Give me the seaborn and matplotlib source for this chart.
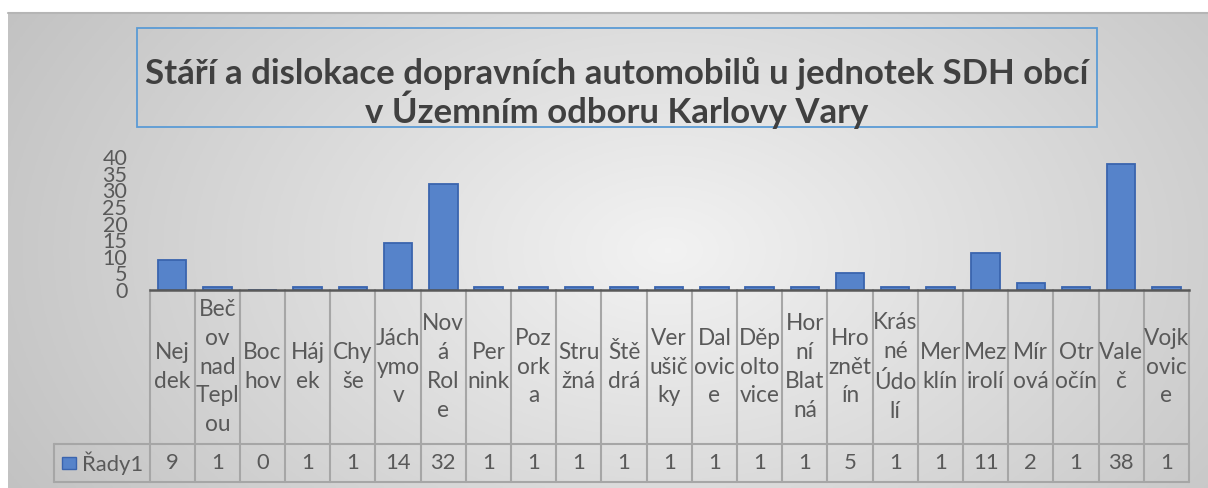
import numpy as np
import matplotlib
matplotlib.use("Agg")
import matplotlib.pyplot as plt
import matplotlib.transforms as mtransforms
from matplotlib.patches import Rectangle
import seaborn as sns

# ---- data ----
obce = ["Nejdek", "Bečov nad Teplou", "Bochov", "Hájek", "Chyše", "Jáchymov",
        "Nová Role", "Pernink", "Pozorka", "Stružná", "Štědrá", "Verušičky",
        "Dalovice", "Děpoltovice", "Horní Blatná", "Hroznětín", "Krásné Údolí",
        "Merklín", "Mezirolí", "Mírová", "Otročín", "Valeč", "Vojkovice"]
stitky = ["Nej\ndek", "Beč\nov\nnad\nTepl\nou", "Boc\nhov", "Háj\nek", "Chy\nše",
          "Jách\nymo\nv", "Nov\ná\nRol\ne", "Per\nnink", "Poz\nork\na", "Stru\nžná",
          "Ště\ndrá", "Ver\nušič\nky", "Dal\novic\ne", "Děp\nolto\nvice",
          "Hor\nní\nBlat\nná", "Hro\nznět\nín", "Krás\nné\nÚdo\nlí", "Mer\nklín",
          "Mez\nirolí", "Mír\nová", "Otr\nočín", "Vale\nč", "Vojk\novic\ne"]
pocty = [9, 1, 0, 1, 1, 14, 32, 1, 1, 1, 1, 1, 1, 1, 1, 5, 1, 1, 11, 2, 1, 38, 1]
rada = "Řady1"
y_ticks = [0, 5, 10, 15, 20, 25, 30, 35, 40]
titulek = "Stáří a dislokace dopravních automobilů u jednotek SDH obcí\nv Územním odboru Karlovy Vary"

W, H = 1208, 488
FONT = "Lato"
TXT = "#595959"
GRID = "#a6a6a6"
BAR = "#5683CA"
BAR_EDGE = "#3A64AE"

sns.set_theme(style="white")
plt.rcParams["font.family"] = [FONT, "DejaVu Sans"]

fig = plt.figure(figsize=(W / 100, H / 100), dpi=100)
fig.patch.set_facecolor("white")

# ---- background gradient (chart area) ----
bg = fig.add_axes([8 / W, 0, (W - 8) / W, (H - 13) / H])
nx, ny = 400, 160
X, Y = np.meshgrid(np.linspace(0, 1, nx), np.linspace(0, 1, ny))
d = np.sqrt(((X - 0.55) / 0.6) ** 2 + ((Y - 0.5) / 1.0) ** 2)
v = np.clip(0.95 - 0.18 * d, 0.76, 0.95)
img = np.dstack([v, v, v])
bg.imshow(img, extent=[0, 1, 0, 1], aspect="auto", origin="lower", zorder=0)
bg.plot([0, 1], [1, 1], color="#b5b5b5", lw=1.5, transform=bg.transAxes, clip_on=False)
bg.set_axis_off()

# ---- title box ----
fig.patches.append(Rectangle((137 / W, 1 - 127 / H), (1097 - 137) / W, (127 - 28) / H,
                             transform=fig.transFigure, fill=False,
                             edgecolor="#5B9BD5", linewidth=1.3))
fig.text(617 / W, 1 - 93 / H, titulek, ha="center", va="center",
         fontsize=25, fontweight="bold", color="#404040", linespacing=1.0)

# ---- main bar axes ----
x0, x1 = 149.5, 1189
y_top, y_base = 157, 290
ax = fig.add_axes([x0 / W, 1 - y_base / H, (x1 - x0) / W, (y_base - y_top) / H])
ax.patch.set_alpha(0)
sns.barplot(x=obce, y=pocty, color=BAR, width=0.63, edgecolor=BAR_EDGE,
            linewidth=1.3, saturation=1, ax=ax)
ax.set_xlim(-0.5, len(obce) - 0.5)
ax.set_ylim(0, 40)
ax.set_yticks(y_ticks)
ax.set_yticklabels([str(t) for t in y_ticks], fontsize=15.5, color=TXT)
ax.tick_params(axis="y", length=0, pad=16)
ax.tick_params(axis="x", length=0, labelbottom=False)
ax.set_xlabel("")
ax.set_ylabel("")
for s in ["top", "right", "left"]:
    ax.spines[s].set_visible(False)
ax.spines["bottom"].set_color("#595959")
ax.spines["bottom"].set_linewidth(1.8)
ax.spines["bottom"].set_zorder(5)

# ---- data table ----
trans = mtransforms.blended_transform_factory(ax.transData, ax.transAxes)
ph = y_base - y_top
row1_bot = -(444 - y_base) / ph
row2_bot = -(482 - y_base) / ph
n = len(obce)
col_px = (x1 - x0) / n
leg_left = -0.5 - (x0 - 54) / col_px

lk = dict(color=GRID, lw=1.5, transform=trans, clip_on=False, zorder=3)
for i in range(n + 1):
    ax.plot([i - 0.5, i - 0.5], [0, row2_bot], **lk)
ax.plot([leg_left, n - 0.5], [row1_bot, row1_bot], **lk)
ax.plot([leg_left, n - 0.5], [row2_bot, row2_bot], **lk)
ax.plot([leg_left, leg_left], [row1_bot, row2_bot], **lk)

tk = dict(transform=trans, ha="center", va="center", fontsize=16.3, color=TXT,
          clip_on=False, linespacing=1.47)
for i, lab in enumerate(stitky):
    ax.text(i, row1_bot / 2, lab, **tk)
vk = dict(tk, linespacing=1.0, fontsize=15.8)
for i, val in enumerate(pocty):
    ax.text(i, (row1_bot + row2_bot) / 2, str(val), **vk)

# legend cell
mid2 = (row1_bot + row2_bot) / 2
ax.add_patch(Rectangle((leg_left + 0.18, mid2 - 0.045), 0.3, 0.09, transform=trans,
                       facecolor=BAR, edgecolor=BAR_EDGE, lw=1.0, clip_on=False))
ax.text(leg_left + 0.63, mid2, rada, transform=trans, ha="left", va="center",
        fontsize=15.8, color=TXT, clip_on=False)

fig.savefig("out.png", dpi=100)
